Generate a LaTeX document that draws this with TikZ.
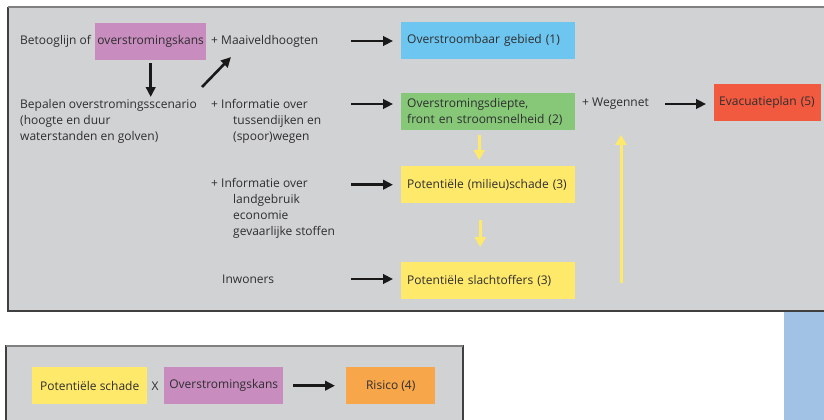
\documentclass[tikz,border=0pt]{standalone}
\usepackage{fontspec}
\setmainfont{Open Sans}
\usetikzlibrary{calc, arrows.meta}

\definecolor{kadergrijs}{HTML}{D1D2D4}
\definecolor{tekstgrijs}{HTML}{2E2E30}
\definecolor{paars}{HTML}{C88CBF}
\definecolor{lichtblauw}{HTML}{6DC6EF}
\definecolor{groen}{HTML}{86C878}
\definecolor{geel}{HTML}{FFE96B}
\definecolor{rood}{HTML}{F15A3F}
\definecolor{oranje}{HTML}{F8A64A}
\definecolor{stripblauw}{HTML}{A2C2E5}

\begin{document}
\begin{tikzpicture}[x=1pt, y=-1pt, font=\fontsize{12}{16.2}\selectfont, text=tekstgrijs,
  lbl/.style={anchor=west, inner sep=0pt, align=left},
  vak/.style={anchor=north west, fill=#1, inner xsep=6pt, inner ysep=0pt,
    minimum height=37pt, text width=162pt, align=left},
  blok/.style={anchor=north west, fill=#1, inner xsep=2pt, inner ysep=0pt,
    minimum height=37pt},
  pijl/.style={line width=2.6pt, draw=black!90, -{Triangle[length=10pt,width=9.5pt]}},
  gpijl/.style={line width=3pt, draw=geel, -{Triangle[length=10pt,width=11pt]}}]
  \useasboundingbox (0,0) rectangle (824,420);

  % 背景框
  \fill[stripblauw] (784,311) rectangle (830,425);
  \fill[kadergrijs] (8,7) rectangle (830,311);
  \draw[black!75, line width=1.3pt] (8,7) -- (8,311) -- (830,311);
  \draw[black!50, line width=2pt] (8,7) -- (830,7);
  \fill[kadergrijs] (6,346) rectangle (463,425);
  \draw[black!75, line width=1.3pt] (6,425) -- (6,346) -- (463,346) -- (463,425);
  \draw[black!50, line width=2pt] (6,346) -- (463,346);

  \coordinate (pijlkolom) at (351,0);
  \coordinate (wegpijl) at (665,0);

  % 第一行
  \node[lbl] (betoog) at (20,41) {Betooglijn of};
  \node[blok=paars, minimum width=111pt] (kans) at (95,23) {overstromingskans};
  \node[lbl] (maai) at (211,41) {+ Maaiveldhoogten};
  \node[vak=lichtblauw] (gebied) at (401,22) {Overstroombaar gebied (1)};

  % 第二行
  \node[lbl, anchor=north west] (scenario) at (20,99)
    {Bepalen overstromingsscenario\\(hoogte en duur\\waterstanden en golven)};
  \node[lbl, anchor=north west] (info1) at (211,99)
    {+ Informatie over\\\hspace*{22pt}tussendijken en\\\hspace*{22pt}(spoor)wegen};
  \node[vak=groen] (diepte) at (401,93) {Overstromingsdiepte,\\front en stroomsnelheid (2)};
  \node[lbl] (wegennet) at (582,104) {+ Wegennet};
  \node[vak=rood, text width=97pt, inner xsep=5pt] (evac) at (714,84) {Evacuatieplan (5)};

  % 第三、四行
  \node[lbl, anchor=north west] (info2) at (211,178)
    {+ Informatie over\\\hspace*{22pt}landgebruik\\\hspace*{22pt}economie\\\hspace*{22pt}gevaarlijke stoffen};
  \node[vak=geel] (schade) at (401,166) {Potentiële (milieu)schade (3)};
  \node[lbl] (inwoners) at (222,279) {Inwoners};
  \node[vak=geel] (slacht) at (401,262) {Potentiële slachtoffers (3)};

  % 下框
  \node[blok=geel, minimum width=115pt] (pschade) at (32,367) {Potentiële schade};
  \node[inner sep=0pt] (maal) at (155,386) {X};
  \node[blok=paars, minimum width=119pt] (okans) at (164,367) {Overstromingskans};
  \node[blok=oranje, minimum width=89pt] (risico) at (346,367) {Risico (4)};

  % 黑色箭头
  \draw[pijl, shorten >=8pt] (maai -| pijlkolom) -- (maai -| gebied.west);
  \draw[pijl, shorten >=8pt] (wegennet -| pijlkolom) -- (wegennet -| diepte.west);
  \draw[pijl, shorten >=8pt] (schade -| pijlkolom) -- (schade.west);
  \draw[pijl, shorten >=8pt] (inwoners -| pijlkolom) -- (inwoners -| slacht.west);
  \draw[pijl, shorten >=8pt] (wegennet -| wegpijl) -- (wegennet -| evac.west);
  \draw[pijl, shorten <=3pt, shorten >=2pt] (kans.south) -- (kans.south |- scenario.north);
  \coordinate (diagvan) at (202,87);
  \coordinate (diagnaar) at (231,57);
  \draw[pijl] (diagvan) -- (diagnaar);
  \draw[pijl, shorten <=10pt, shorten >=11pt] (okans.east) -- (risico.west);

  % 黄色箭头
  \draw[gpijl, shorten <=5pt, shorten >=6pt] ([xshift=-9pt]diepte.south) -- ([xshift=-9pt]schade.north);
  \draw[gpijl, shorten <=17pt, shorten >=15pt] ([xshift=-8pt]schade.south) -- ([xshift=-8pt]slacht.north);
  \coordinate (wegvoet) at (621,283);
  \draw[gpijl, shorten >=25pt] (wegvoet) -- (wegvoet |- wegennet.south);
\end{tikzpicture}
\end{document}
